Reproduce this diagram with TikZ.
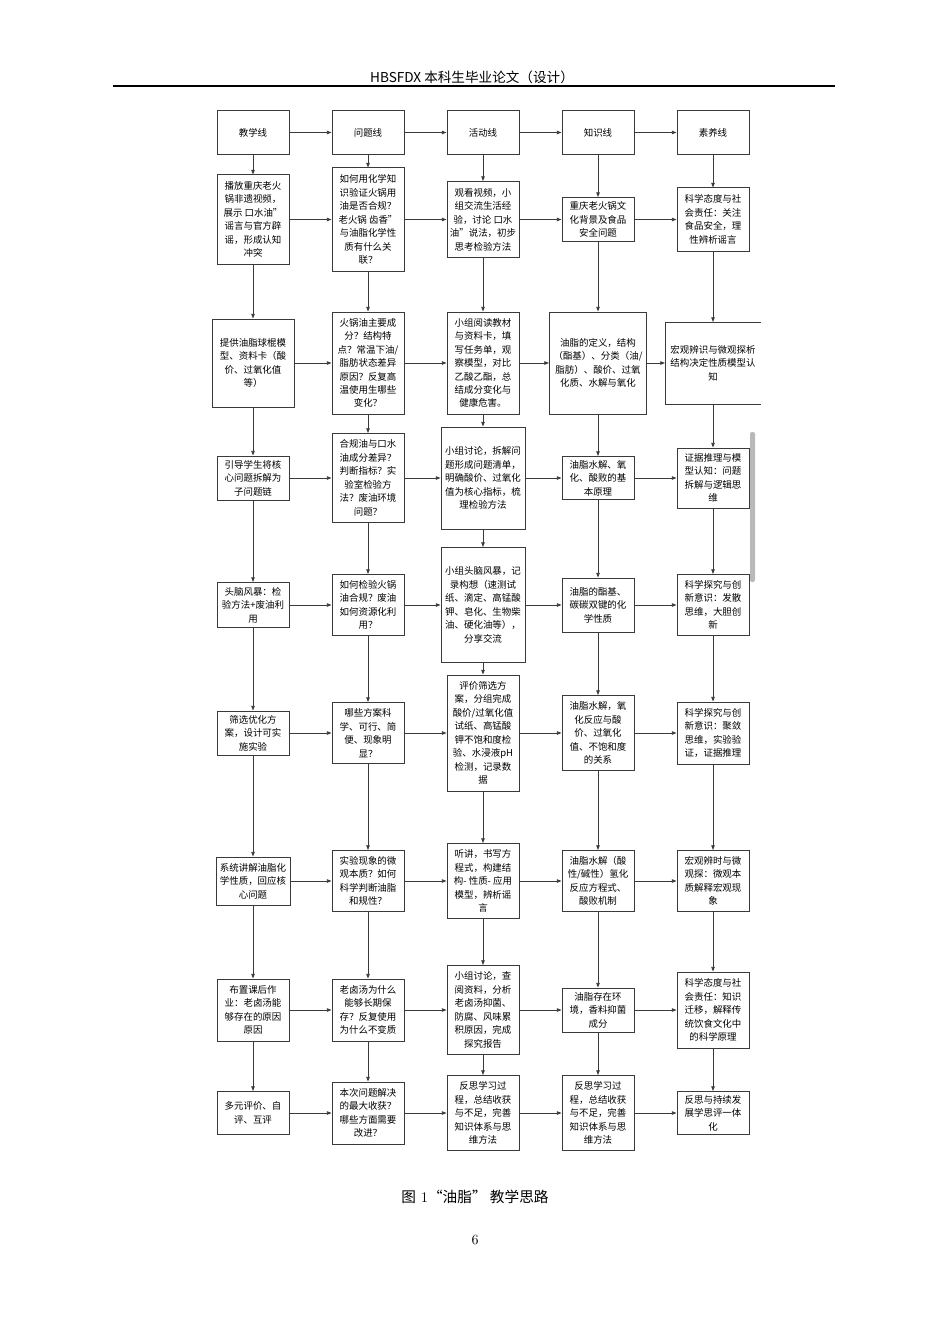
\documentclass[tikz,border=0pt]{standalone}
\usepackage{fontspec}
\usepackage{tikz}
\usetikzlibrary{arrows.meta}
\newfontfamily\cjk{Noto Sans CJK SC}
\definecolor{linec}{HTML}{3A3A3A}
\newcommand{\boxfont}{\cjk\fontsize{7.1}{10.1}\selectfont}

\begin{document}
\begin{tikzpicture}[x=0.75pt, y=-0.75pt,
  box/.style={draw=linec, line width=0.7pt, fill=white, align=center, inner sep=1pt, minimum width=54pt, font=\boxfont},
  arr/.style={draw=linec, line width=0.6pt, -{Triangle[length=3.5pt,width=2.6pt]}}]

\useasboundingbox (0,0) rectangle (950,1344);

% page head
\node (head) at (472,77) {\cjk\fontsize{10.2}{12}\selectfont HBSFDX 本科生毕业论文（设计）};
\draw [line width=1pt] (113,86) -- (835,86);

% header row
\node [box, minimum height=32.3pt] (r0c1) at (253,132.5) {教学线};
\node [box, minimum height=32.3pt] (r0c2) at (368,132.5) {问题线};
\node [box, minimum height=32.3pt] (r0c3) at (483,132.5) {活动线};
\node [box, minimum height=32.3pt] (r0c4) at (598,132.5) {知识线};
\node [box, minimum height=32.3pt] (r0c5) at (713,132.5) {素养线};

% row 1
\node [box, minimum height=66.8pt] (r1c1) at (253,219.5) {播放重庆老火\\锅非遗视频，\\展示 口水油”\\谣言与官方辟\\谣，形成认知\\冲突};
\node [box, minimum height=77.3pt] (r1c2) at (368,219.5) {如何用化学知\\识验证火锅用\\油是否合规？\\老火锅 齿香”\\与油脂化学性\\质有什么关\\联？};
\node [box, minimum height=57pt] (r1c3) at (483,219.5) {观看视频，小\\组交流生活经\\验，讨论 口水\\油”说法，初步\\思考检验方法};
\node [box, minimum height=33pt] (r1c4) at (598,219.5) {重庆老火锅文\\化背景及食品\\安全问题};
\node [box, minimum height=47.3pt] (r1c5) at (713,219.5) {科学态度与社\\会责任：关注\\食品安全，理\\性辨析谣言};

% row 2
\node [box, minimum width=61.5pt, minimum height=66pt] (r2c1) at (253,363) {提供油脂球棍模\\型、资料卡（酸\\价、过氧化值\\等）};
\node [box, minimum height=76.5pt] (r2c2) at (368,363) {火锅油主要成\\分？结构特\\点？常温下油/\\脂肪状态差异\\原因？反复高\\温使用生哪些\\变化？};
\node [box, minimum height=76.5pt] (r2c3) at (483,363) {小组阅读教材\\与资料卡，填\\写任务单，观\\察模型，对比\\乙酸乙酯，总\\结成分变化与\\健康危害。};
\node [box, minimum width=72.8pt, minimum height=76.5pt] (r2c4) at (598,363) {油脂的定义，结构\\（酯基）、分类（油/\\脂肪）、酸价、过氧\\化质、水解与氧化};
\node [box, draw=none, minimum width=71.3pt, minimum height=60.8pt] (r2c5) at (713,363) {宏观辨识与微观探析\\结构决定性质模型认\\知};
\draw [linec, line width=0.7pt] (r2c5.north east) -- (r2c5.north west) -- (r2c5.south west) -- (r2c5.south east);

% row 3
\node [box, minimum height=33pt] (r3c1) at (253,478) {引导学生将核\\心问题拆解为\\子问题链};
\node [box, minimum height=66.8pt] (r3c2) at (368,478) {合规油与口水\\油成分差异？\\判断指标？实\\验室检验方\\法？废油环境\\问题？};
\node [box, minimum width=63pt, minimum height=76.5pt] (r3c3) at (483,478) {小组讨论，拆解问\\题形成问题清单，\\明确酸价、过氧化\\值为核心指标，梳\\理检验方法};
\node [box, minimum height=32.3pt] (r3c4) at (598,478) {油脂水解、氧\\化、酸败的基\\本原理};
\node [box, minimum height=45pt] (r3c5) at (713,478) {证据推理与模\\型认知：问题\\拆解与逻辑思\\维};

% row 4
\node [box, minimum height=33.8pt] (r4c1) at (253,605) {头脑风暴：检\\验方法+废油利\\用};
\node [box, minimum height=45.8pt] (r4c2) at (368,605) {如何检验火锅\\油合规？废油\\如何资源化利\\用？};
\node [box, minimum width=63pt, minimum height=86.3pt] (r4c3) at (483,605) {小组头脑风暴，记\\录构想（速测试\\纸、滴定、高锰酸\\钾、皂化、生物柴\\油、硬化油等），\\分享交流};
\node [box, minimum height=40.5pt] (r4c4) at (598,605) {油脂的酯基、\\碳碳双键的化\\学性质};
\node [box, minimum height=45.8pt] (r4c5) at (713,605) {科学探究与创\\新意识：发散\\思维，大胆创\\新};

% row 5
\node [box, minimum height=33pt] (r5c1) at (253,733) {筛选优化方\\案，设计可实\\施实验};
\node [box, minimum height=45.8pt] (r5c2) at (368,733) {哪些方案科\\学、可行、简\\便、现象明\\显？};
\node [box, minimum height=87pt] (r5c3) at (483,733) {评价筛选方\\案，分组完成\\酸价/过氧化值\\试纸、高锰酸\\钾不饱和度检\\验、水浸液pH\\检测，记录数\\据};
\node [box, minimum height=56.3pt] (r5c4) at (598,733) {油脂水解，氧\\化反应与酸\\价、过氧化\\值、不饱和度\\的关系};
\node [box, minimum height=46.5pt] (r5c5) at (713,733) {科学探究与创\\新意识：聚敛\\思维，实验验\\证，证据推理};

% row 6
\node [box, minimum width=55.5pt, minimum height=36pt] (r6c1) at (253,881) {系统讲解油脂化\\学性质，回应核\\心问题};
\node [box, minimum height=45.8pt] (r6c2) at (368,881) {实验现象的微\\观本质？如何\\科学判断油脂\\和规性？};
\node [box, minimum height=56.3pt] (r6c3) at (483,881) {听讲，书写方\\程式，构建结\\构- 性质- 应用\\模型，辨析谣\\言};
\node [box, minimum height=45.8pt] (r6c4) at (598,881) {油脂水解（酸\\性/碱性）氢化\\反应方程式、\\酸败机制};
\node [box, minimum height=45.8pt] (r6c5) at (713,881) {宏观辨时与微\\观探：微观本\\质解释宏观现\\象};

% row 7
\node [box, minimum height=46.5pt] (r7c1) at (253,1010) {布置课后作\\业：老卤汤能\\够存在的原因\\原因};
\node [box, minimum height=46.5pt] (r7c2) at (368,1010) {老卤汤为什么\\能够长期保\\存？反复使用\\为什么不变质};
\node [box, minimum height=66.8pt] (r7c3) at (483,1010) {小组讨论，查\\阅资料，分析\\老卤汤抑菌、\\防腐、风味累\\积原因，完成\\探究报告};
\node [box, minimum height=33pt] (r7c4) at (598,1010) {油脂存在环\\境，香料抑菌\\成分};
\node [box, minimum height=57pt] (r7c5) at (713,1010) {科学态度与社\\会责任：知识\\迁移，解释传\\统饮食文化中\\的科学原理};

% row 8
\node [box, minimum height=32.3pt] (r8c1) at (253,1113) {多元评价、自\\评、互评};
\node [box, minimum height=46.5pt] (r8c2) at (368,1113) {本次问题解决\\的最大收获？\\哪些方面需要\\改进？};
\node [box, minimum height=56.3pt] (r8c3) at (483,1113) {反思学习过\\程，总结收获\\与不足，完善\\知识体系与思\\维方法};
\node [box, minimum height=56.3pt] (r8c4) at (598,1113) {反思学习过\\程，总结收获\\与不足，完善\\知识体系与思\\维方法};
\node [box, minimum height=32.3pt] (r8c5) at (713,1113) {反思与持续发\\展学思评一体\\化};

% arrows along each row and down each column
\foreach \row in {0,...,8}
  \foreach \col/\nxt in {1/2,2/3,3/4,4/5}
    \draw [arr] (r\row c\col) -- (r\row c\nxt);
\foreach \col in {1,...,5}
  \foreach \row/\nxt in {0/1,1/2,2/3,3/4,4/5,5/6,6/7,7/8}
    \draw [arr] (r\row c\col) -- (r\nxt c\col);

% grey bar at the right
\fill [gray!55, rounded corners=1.5pt] (750,432) rectangle (755,582);

% caption and page number
\node [font=\fontsize{11}{13}\selectfont] (caption) at (475,1197) {{\cjk 图} 1{\cjk “油脂” 教学思路}};
\node [font=\fontsize{10.5}{12}\selectfont] (pagenum) at (475,1240) {6};

\end{tikzpicture}
\end{document}
